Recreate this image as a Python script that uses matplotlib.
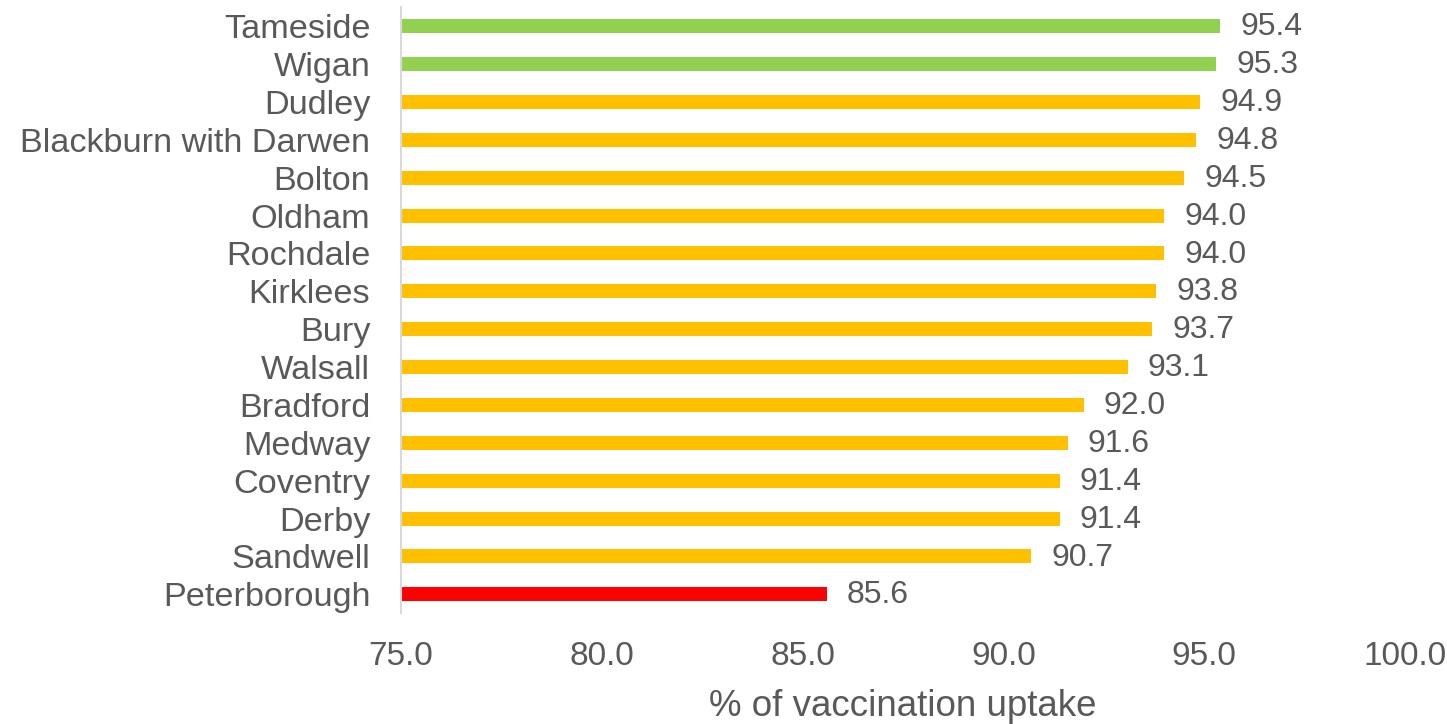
import numpy as np
import matplotlib.pyplot as plt

plt.rcParams['font.family'] = ['Liberation Sans', 'DejaVu Sans']

# datos
areas = ['Tameside', 'Wigan', 'Dudley', 'Blackburn with Darwen', 'Bolton', 'Oldham',
         'Rochdale', 'Kirklees', 'Bury', 'Walsall', 'Bradford', 'Medway',
         'Coventry', 'Derby', 'Sandwell', 'Peterborough']
uptake = [95.4, 95.3, 94.9, 94.8, 94.5, 94.0, 94.0, 93.8, 93.7, 93.1, 92.0, 91.6,
          91.4, 91.4, 90.7, 85.6]
xticks = [75.0, 80.0, 85.0, 90.0, 95.0, 100.0]

def color_for(v):
    if v >= 95:
        return '#92D050'
    if v >= 90:
        return '#FFC000'
    return '#FF0000'

grey = '#595959'
fig = plt.figure(figsize=(14.47, 7.24), dpi=100)
ax = fig.add_axes([0.277, 0.153, 0.694, 0.837])

y = np.arange(len(areas))
ax.barh(y, np.array(uptake) - 75, left=75, height=0.37,
        color=[color_for(v) for v in uptake])

for yi, v in zip(y, uptake):
    ax.text(v + 0.5, yi + 0.03, f"{v:.1f}", va='center', ha='left', fontsize=23, color=grey)

ax.set_xlim(75, 100)
ax.set_ylim(len(areas) - 0.5, -0.5)
ax.set_yticks(y)
ax.set_yticklabels(areas, fontsize=24.7, color=grey)
ax.set_xticks(xticks)
ax.set_xticklabels([f"{t:.1f}" for t in xticks], fontsize=24, color=grey)
ax.tick_params(axis='both', length=0)
ax.tick_params(axis='x', pad=20)
ax.tick_params(axis='y', pad=22)
for s in ['top', 'right', 'bottom']:
    ax.spines[s].set_visible(False)
ax.spines['left'].set_color('#d9d9d9')
ax.spines['left'].set_linewidth(1.5)
ax.set_xlabel('% of vaccination uptake', fontsize=26.5, color=grey, labelpad=12)

fig.savefig('out.png', dpi=100)
